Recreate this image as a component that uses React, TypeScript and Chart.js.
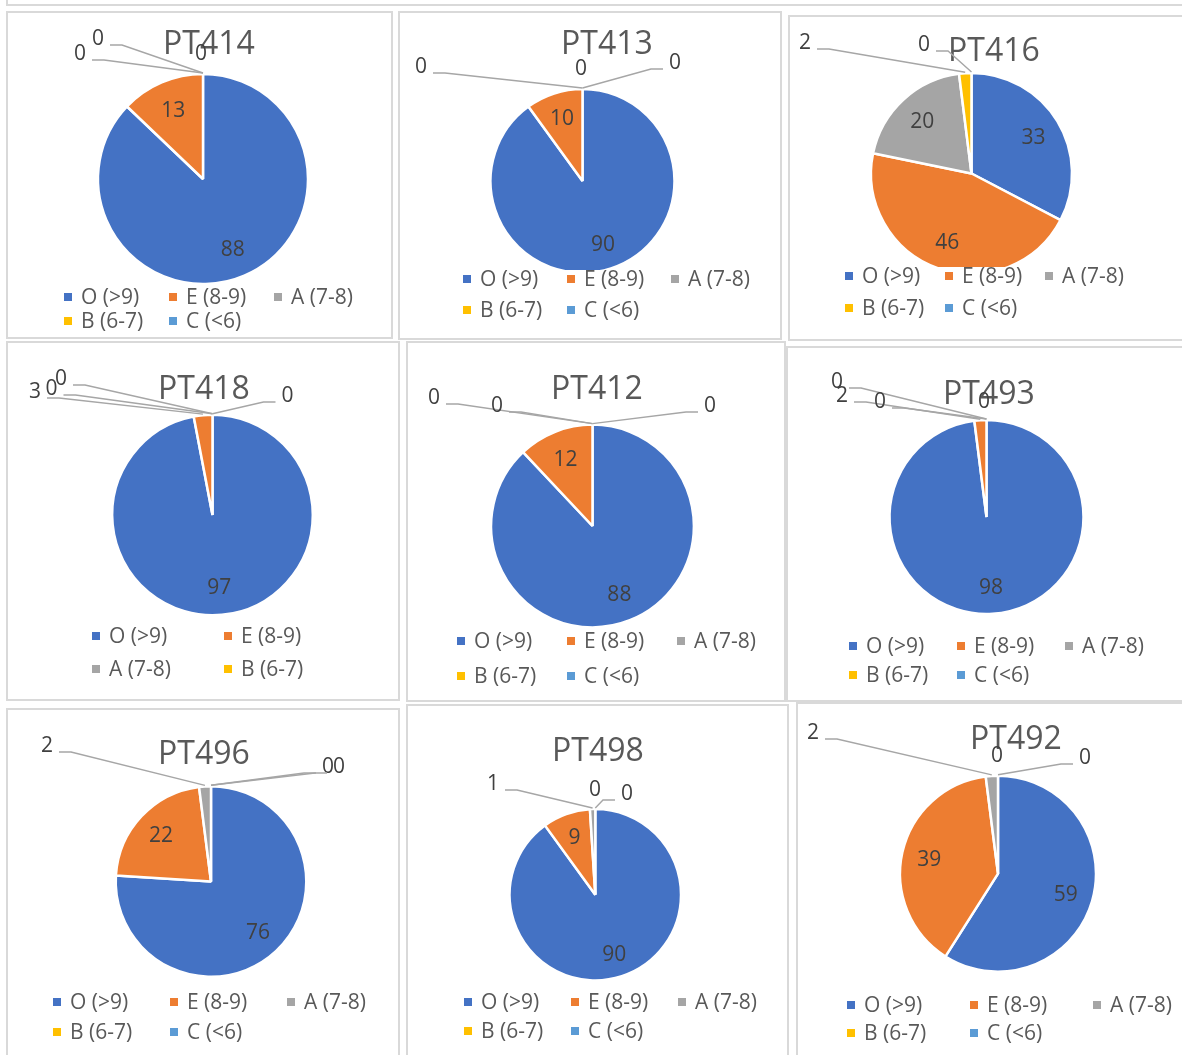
import React, { useEffect, useRef } from "react";
import { Chart, registerables } from "chart.js";

Chart.register(...registerables);

// ---------- data ----------
const categories = ["O (>9)", "E (8-9)", "A (7-8)", "B (6-7)", "C (<6)"];
const titles = ["PT414", "PT413", "PT416", "PT418", "PT412", "PT493", "PT496", "PT498", "PT492"];
const pt414 = [88, 13, 0, 0, 0];
const pt413 = [90, 10, 0, 0, 0];
const pt416 = [33, 46, 20, 2, 0];
const pt418 = [97, 3, 0, 0, 0];
const pt412 = [88, 12, 0, 0, 0];
const pt493 = [98, 2, 0, 0, 0];
const pt496 = [76, 22, 2, 0, 0];
const pt498 = [90, 9, 1, 0, 0];
const pt492 = [59, 39, 2, 0, 0];
const seriesValues = [pt414, pt413, pt416, pt418, pt412, pt493, pt496, pt498, pt492];

// ---------- styles ----------
const sliceColors = ["#4472C4", "#ED7D31", "#A5A5A5", "#FFC000", "#5B9BD5"];
const FONT = "'Open Sans', 'Noto Sans', sans-serif";
const TEXT_DARK = "#404040";
const TEXT_MID = "#595959";
const LEADER = "#a6a6a6";
const BORDER = "#d9d9d9";

// ---------- layout (page coordinates) ----------
type Legend = { x: number; y: number; step: number; gap: number; cols: number; count: number };
type Layout = {
  box: [number, number, number, number];
  pie: [number, number, number];
  titlePos: [number, number];
  legend: Legend;
  outside: Record<number, [number, number]>;
};

const layouts: Layout[] = [
  {
    box: [7, 12, 385, 326], pie: [203, 179, 104], titlePos: [209, 43],
    legend: { x: 64, y: 297, step: 105, gap: 24, cols: 3, count: 5 },
    outside: { 2: [-123, -126], 3: [-105, -141], 4: [-2, -126] },
  },
  {
    box: [399, 12, 382, 327], pie: [582.5, 181, 91], titlePos: [607, 43],
    legend: { x: 463, y: 279, step: 104, gap: 31, cols: 3, count: 5 },
    outside: { 2: [-161.5, -115], 3: [-1.5, -113], 4: [92.5, -119] },
  },
  {
    box: [789, 16, 401, 324], pie: [971.5, 173.5, 99.5], titlePos: [994, 50],
    legend: { x: 845, y: 276, step: 100, gap: 32, cols: 3, count: 5 },
    outside: { 3: [-166.5, -131.5], 4: [-47.5, -129.5] },
  },
  {
    box: [7, 342, 392, 358], pie: [212.5, 515, 99.3], titlePos: [204, 388],
    legend: { x: 92, y: 636, step: 132, gap: 33, cols: 2, count: 4 },
    outside: { 1: [-177.5, -124], 2: [-161, -127], 3: [-151.5, -137], 4: [75, -120] },
  },
  {
    box: [407, 342, 378, 359], pie: [592.5, 526, 100.4], titlePos: [597, 388],
    legend: { x: 457, y: 641, step: 110, gap: 35, cols: 3, count: 5 },
    outside: { 2: [-158.5, -129], 3: [-95.5, -121], 4: [117.5, -121] },
  },
  {
    box: [787, 347, 403, 354], pie: [986.5, 517, 96], titlePos: [989, 393],
    legend: { x: 849, y: 646, step: 108, gap: 29, cols: 3, count: 5 },
    outside: { 1: [-144.5, -122], 2: [-149.5, -136], 3: [-106.5, -116], 4: [-2.5, -116] },
  },
  {
    box: [7, 709, 392, 360], pie: [211, 881.5, 94.3], titlePos: [204, 753],
    legend: { x: 53, y: 1002, step: 117, gap: 30, cols: 3, count: 5 },
    outside: { 2: [-164, -136.5], 3: [117, -115.5], 4: [128, -115.5] },
  },
  {
    box: [407, 705, 381, 360], pie: [595.3, 894.7, 84.7], titlePos: [598, 750],
    legend: { x: 464, y: 1002, step: 107, gap: 29, cols: 3, count: 5 },
    outside: { 2: [-102.3, -111.7], 3: [-0.3, -105.7], 4: [31.7, -101.7] },
  },
  {
    box: [797, 703, 400, 360], pie: [998, 873.7, 97], titlePos: [1016, 738],
    legend: { x: 847, y: 1005, step: 123, gap: 28, cols: 3, count: 5 },
    outside: { 2: [-185, -141.7], 3: [-1, -118.7], 4: [87, -116.7] },
  },
];

function makeDecor(title: string, lay: Layout) {
  return {
    id: "decor",
    afterDraw(chart: any) {
      const ctx: CanvasRenderingContext2D = chart.ctx;
      const [bx, by] = lay.box;
      ctx.save();

      // title
      ctx.font = `32px ${FONT}`;
      ctx.fillStyle = TEXT_MID;
      ctx.textAlign = "center";
      ctx.textBaseline = "alphabetic";
      ctx.fillText(title, lay.titlePos[0] - bx, lay.titlePos[1] - by + 0.357 * 32);

      // data labels
      const meta = chart.getDatasetMeta(0);
      const data = chart.data.datasets[0].data as number[];
      const LF = 21;
      ctx.font = `${LF}px ${FONT}`;
      meta.data.forEach((arc: any, i: number) => {
        const { x, y, startAngle, endAngle, outerRadius } = arc.getProps(
          ["x", "y", "startAngle", "endAngle", "outerRadius"],
          true
        );
        const mid = (startAngle + endAngle) / 2;
        const text = String(data[i]);
        const tw = ctx.measureText(text).width;
        const off = lay.outside[i];
        let lx: number, ly: number;
        if (!off) {
          lx = x + Math.cos(mid) * outerRadius * 0.72;
          ly = y + Math.sin(mid) * outerRadius * 0.72;
        } else {
          lx = x + off[0];
          ly = y + off[1];
          const ax = x + Math.cos(mid) * (outerRadius + 1);
          const ay = y + Math.sin(mid) * (outerRadius + 1);
          if (Math.abs(lx - ax) > 14) {
            const dir = lx < ax ? 1 : -1;
            const sx = lx + dir * (tw / 2 + 6);
            const ex = sx + dir * 12;
            const yy = ly + 7;
            ctx.strokeStyle = LEADER;
            ctx.lineWidth = 1.4;
            ctx.beginPath();
            ctx.moveTo(sx, yy);
            ctx.lineTo(ex, yy);
            ctx.lineTo(ax, ay);
            ctx.stroke();
          }
        }
        ctx.fillStyle = TEXT_DARK;
        ctx.textAlign = "center";
        ctx.fillText(text, lx, ly + 0.357 * LF);
      });

      // legend
      const lg = lay.legend;
      const rows = Math.ceil(lg.count / lg.cols);
      ctx.fillStyle = "#ffffff";
      ctx.fillRect(lg.x - bx - 6, lg.y - by - 9, lg.cols * lg.step, (rows - 1) * lg.gap + 22);
      ctx.font = `21px ${FONT}`;
      ctx.textAlign = "left";
      for (let i = 0; i < lg.count; i++) {
        const c = i % lg.cols;
        const r = Math.floor(i / lg.cols);
        const mx = lg.x - bx + c * lg.step;
        const my = lg.y - by + r * lg.gap;
        ctx.fillStyle = sliceColors[i];
        ctx.fillRect(mx, my - 4, 8, 8);
        ctx.fillStyle = TEXT_MID;
        ctx.fillText(categories[i], mx + 17, my + 0.357 * 21);
      }
      ctx.restore();
    },
  };
}

function PiePanel({ title, values, lay }: { title: string; values: number[]; lay: Layout }) {
  const ref = useRef<HTMLCanvasElement | null>(null);
  const [bx, by, bw, bh] = lay.box;
  const [cx, cy, r] = lay.pie;

  useEffect(() => {
    if (!ref.current) return;
    const lx = cx - bx;
    const ly = cy - by;
    const chart = new Chart(ref.current, {
      type: "pie",
      data: {
        labels: categories,
        datasets: [
          {
            data: values,
            backgroundColor: sliceColors,
            borderColor: "#ffffff",
            borderWidth: 2.5,
            radius: r + 1,
          } as any,
        ],
      },
      options: {
        responsive: false,
        animation: false,
        devicePixelRatio: 1,
        events: [],
        radius: r + 1,
        layout: {
          padding: {
            left: lx - r,
            right: bw - lx - r,
            top: ly - r,
            bottom: bh - ly - r,
          },
        },
        plugins: {
          legend: { display: false },
          title: { display: false },
          tooltip: { enabled: false },
        },
      } as any,
      plugins: [makeDecor(title, lay)],
    });
    return () => chart.destroy();
  }, []);

  return (
    <>
      <canvas
        ref={ref}
        width={bw}
        height={bh}
        style={{ position: "absolute", left: bx, top: by, width: bw, height: bh }}
      />
      <div
        style={{
          position: "absolute",
          left: bx - 1,
          top: by - 1,
          width: bw + 2,
          height: bh + 2,
          border: `2px solid ${BORDER}`,
          boxSizing: "border-box",
          pointerEvents: "none",
        }}
      />
    </>
  );
}

export default function App() {
  return (
    <div
      style={{
        position: "absolute",
        left: 0,
        top: 0,
        width: 1182,
        height: 1055,
        overflow: "hidden",
        background: "#ffffff",
      }}
    >
      <div
        style={{
          position: "absolute",
          left: 6,
          top: -20,
          width: 1300,
          height: 26,
          border: `2px solid ${BORDER}`,
          boxSizing: "border-box",
        }}
      />
      {layouts.map((lay, i) => (
        <PiePanel key={i} title={titles[i]} values={seriesValues[i]} lay={lay} />
      ))}
    </div>
  );
}
